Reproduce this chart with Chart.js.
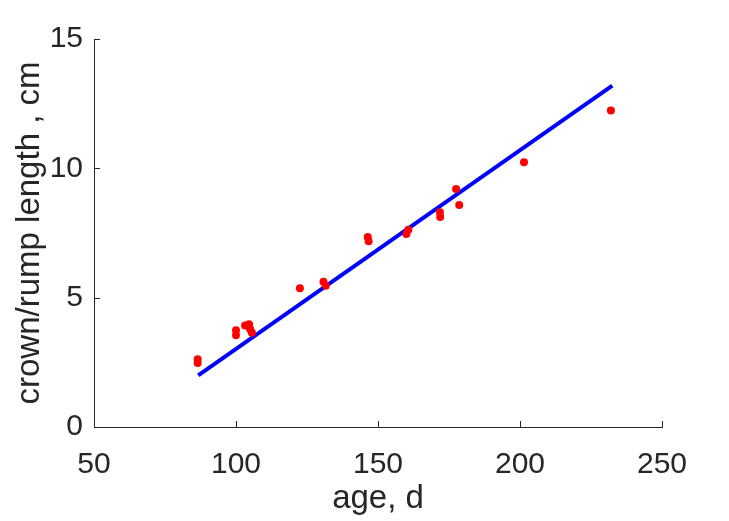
<!DOCTYPE html>
<html>
<head>
<meta charset="utf-8">
<script src="https://cdn.jsdelivr.net/npm/chart.js@4"></script>
<style>
  html, body { margin: 0; padding: 0; background: #fff; }
  #wrap { width: 729px; height: 521px; }
</style>
</head>
<body>
<div id="wrap"><canvas id="myChart" width="729" height="521"></canvas></div>
<script>
// measured points
const ageDays = [86.5, 86.5, 100, 100, 103.2, 104.6, 105.0, 105.6, 122.5, 130.8, 131.6, 146.4, 146.7, 160.0, 160.7, 171.8, 171.9, 177.5, 178.6, 201.4, 232.0];
const crlCm   = [2.62, 2.47, 3.74, 3.55, 3.92, 3.97, 3.78, 3.64, 5.36, 5.62, 5.46, 7.35, 7.18, 7.46, 7.63, 8.30, 8.12, 9.20, 8.58, 10.24, 12.24];
// fitted line
const fitAge = [86.7, 232.5];
const fitCrl = [2.0, 13.2];
const xTicks = [50, 100, 150, 200, 250];
const yTicks = [0, 5, 10, 15];

const ink = '#262626';

// MATLAB style ticks pointing into the plot
const innerTicks = {
  id: 'innerTicks',
  afterDraw(chart) {
    const ctx = chart.ctx, x = chart.scales.x, y = chart.scales.y;
    const len = 6;
    ctx.save();
    ctx.strokeStyle = ink;
    ctx.lineWidth = 1;
    ctx.beginPath();
    xTicks.forEach(v => {
      const px = Math.round(x.getPixelForValue(v)) + 0.5;
      ctx.moveTo(px, y.bottom);
      ctx.lineTo(px, y.bottom - len);
    });
    yTicks.forEach(v => {
      const py = Math.round(y.getPixelForValue(v)) + 0.5;
      ctx.moveTo(x.left, py);
      ctx.lineTo(x.left + len, py);
    });
    ctx.stroke();
    ctx.restore();
  }
};

const ctx = document.getElementById('myChart').getContext('2d');
new Chart(ctx, {
  type: 'scatter',
  data: {
    datasets: [
      {
        data: ageDays.map((a, i) => ({ x: a, y: crlCm[i] })),
        backgroundColor: '#ff0000',
        borderColor: '#ff0000',
        pointRadius: 4,
        borderWidth: 0,
        order: 1
      },
      {
        data: fitAge.map((a, i) => ({ x: a, y: fitCrl[i] })),
        showLine: true,
        borderColor: '#0000ff',
        borderWidth: 4,
        pointRadius: 0,
        order: 2
      }
    ]
  },
  options: {
    responsive: false,
    animation: false,
    layout: { padding: { top: 39, right: 67, left: 0, bottom: 0 } },
    plugins: { legend: { display: false }, tooltip: { enabled: false } },
    scales: {
      x: {
        type: 'linear', min: 50, max: 250,
        afterFit(s) { s.height = 94; },
        afterBuildTicks(s) { s.ticks = xTicks.map(v => ({ value: v })); },
        grid: { display: true, drawOnChartArea: false, drawTicks: false },
        border: { color: ink, width: 1 },
        ticks: { color: ink, padding: 20, maxRotation: 0, font: { family: 'Liberation Sans', size: 30 } },
        title: { display: true, text: 'age, d', color: ink, padding: { top: 0, bottom: 2 }, font: { family: 'Liberation Sans', size: 33 } }
      },
      y: {
        type: 'linear', min: 0, max: 15,
        afterFit(s) { s.width = 94; },
        afterBuildTicks(s) { s.ticks = yTicks.map(v => ({ value: v })); },
        grid: { display: true, drawOnChartArea: false, drawTicks: false },
        border: { color: ink, width: 1 },
        ticks: { color: ink, padding: 11, font: { family: 'Liberation Sans', size: 30 } },
        title: { display: true, text: 'crown/rump length , cm', color: ink, padding: { top: 10, bottom: 0 }, font: { family: 'Liberation Sans', size: 33 } }
      }
    }
  },
  plugins: [innerTicks]
});
</script>
</body>
</html>
